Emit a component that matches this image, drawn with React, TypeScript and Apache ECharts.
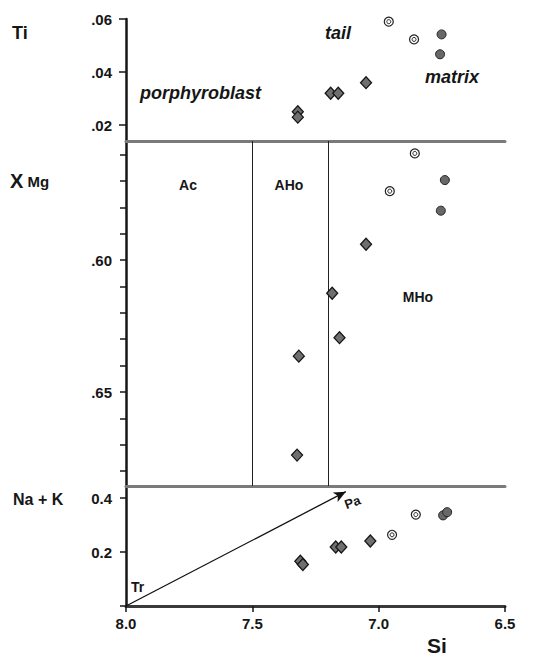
import React, { useEffect, useRef } from "react";
import * as echarts from "echarts";

// ---- data (Si, value) ----
const porphTiSi = [7.32, 7.32, 7.19, 7.16, 7.05];
const porphTi = [0.025, 0.023, 0.032, 0.032, 0.036];
const tailTiSi = [6.96, 6.86];
const tailTi = [0.059, 0.0523];
const matrixTiSi = [6.751, 6.757];
const matrixTi = [0.0542, 0.0467];

const porphMgSi = [7.05, 7.184, 7.155, 7.316, 7.323];
const porphMg = [0.594, 0.6126, 0.6294, 0.6364, 0.6739];
const tailMgSi = [6.857, 6.956];
const tailMg = [0.5596, 0.5739];
const matrixMgSi = [6.738, 6.754];
const matrixMg = [0.5697, 0.5813];

const porphNaKSi = [7.31, 7.30, 7.17, 7.148, 7.033];
const porphNaK = [0.166, 0.154, 0.219, 0.219, 0.241];
const tailNaKSi = [6.947, 6.853];
const tailNaK = [0.264, 0.339];
const matrixNaKSi = [6.745, 6.729];
const matrixNaK = [0.336, 0.348];

const fieldBoundsSi = [7.5, 7.2];
const trPoint = [8.0, 0];
const paPoint = [7.13, 0.424];

const tiTicks = [0.02, 0.04, 0.06];
const mgTicks = [0.56, 0.57, 0.58, 0.59, 0.6, 0.61, 0.62, 0.63, 0.64, 0.65, 0.66, 0.67, 0.68];
const mgLabels = [0.6, 0.65];
const nakTicks = [0, 0.2, 0.4];
const nakLabels = [0.2, 0.4];

const zip = (a: number[], b: number[]) => a.map((v, i) => [v, b[i]]);

const FONT = "'Liberation Sans', Arial, sans-serif";
const INK = "#161616";

export default function App() {
  const ref = useRef<HTMLDivElement>(null);
  useEffect(() => {
    document.body.style.margin = "0";
    const chart = echarts.init(ref.current!, null, { renderer: "svg" });

    const L = 126, R = 553 - 505;
    const xBase = (gi: number, show: boolean, lineColor: string, lw: number) => ({
      type: "value",
      gridIndex: gi,
      min: 6.5,
      max: 8.0,
      interval: 0.5,
      inverse: true,
      splitLine: { show: false },
      axisLine: { show: true, onZero: false, lineStyle: { color: lineColor, width: lw } },
      axisTick: { show: show, length: 6, lineStyle: { color: INK, width: 1.5 } },
      axisLabel: {
        show: show,
        margin: 10,
        fontFamily: FONT,
        fontWeight: "bold",
        fontSize: 15,
        color: INK,
        formatter: (v: number) => v.toFixed(1),
      },
    });

    const yCommon = {
      type: "value",
      splitLine: { show: false },
      axisLine: { show: true, onZero: false, lineStyle: { color: INK, width: 2.5 } },
      axisLabel: {
        margin: 14,
        fontFamily: FONT,
        fontWeight: "bold",
        fontSize: 15,
        color: INK,
      },
    };

    const diamond = (gi: number, data: number[][]) => ({
      type: "scatter",
      xAxisIndex: gi,
      yAxisIndex: gi,
      symbol: "diamond",
      symbolSize: [11, 12],
      itemStyle: { color: "#6f6f6f", borderColor: INK, borderWidth: 1.3, opacity: 1 },
      data,
      z: 5,
    });
    const filled = (gi: number, data: number[][]) => ({
      type: "scatter",
      xAxisIndex: gi,
      yAxisIndex: gi,
      symbol: "circle",
      symbolSize: 9,
      itemStyle: { color: "#686868", borderColor: "#222", borderWidth: 1, opacity: 1 },
      data,
      z: 5,
    });
    const openOuter = (gi: number, data: number[][]) => ({
      type: "scatter",
      xAxisIndex: gi,
      yAxisIndex: gi,
      symbol: "circle",
      symbolSize: 9,
      itemStyle: { color: "#fff", borderColor: "#222", borderWidth: 1.2, opacity: 1 },
      data,
      z: 5,
    });
    const openInner = (gi: number, data: number[][]) => ({
      type: "scatter",
      xAxisIndex: gi,
      yAxisIndex: gi,
      symbol: "circle",
      symbolSize: 4,
      itemStyle: { color: "#fff", borderColor: "#222", borderWidth: 1, opacity: 1 },
      data,
      z: 6,
    });

    const txt = (x: number, y: number, text: string, extra: any = {}) => ({
      type: "text",
      x,
      y,
      style: {
        text,
        fill: INK,
        fontFamily: FONT,
        fontWeight: "bold",
        fontSize: 14,
        textVerticalAlign: "middle",
        verticalAlign: "middle",
        ...extra,
      },
    });

    chart.setOption({
      animation: false,
      backgroundColor: "#fff",
      grid: [
        { left: L, right: R, top: 19, height: 122 },
        { left: L, right: R, top: 141, height: 345 },
        { left: L, right: R, top: 486, height: 120 },
      ],
      xAxis: [
        xBase(0, false, "#7a7a7a", 3),
        xBase(1, false, "#7a7a7a", 3),
        xBase(2, true, "#3a3a3a", 3),
      ],
      yAxis: [
        {
          ...yCommon,
          gridIndex: 0,
          min: 0.014,
          max: 0.06,
          axisTick: { show: true, length: 7, customValues: tiTicks, lineStyle: { color: INK, width: 1.5 } },
          axisLabel: {
            ...yCommon.axisLabel,
            customValues: tiTicks,
            formatter: (v: number) => v.toFixed(2).replace(/^0/, ""),
          },
        },
        {
          ...yCommon,
          gridIndex: 1,
          min: 0.5549,
          max: 0.6856,
          inverse: true,
          axisTick: { show: true, length: 6, customValues: mgTicks, lineStyle: { color: INK, width: 1.5 } },
          axisLabel: {
            ...yCommon.axisLabel,
            customValues: mgLabels,
            formatter: (v: number) => v.toFixed(2).replace(/^0/, ""),
          },
        },
        {
          ...yCommon,
          gridIndex: 2,
          min: 0,
          max: 0.445,
          axisTick: { show: true, length: 6, customValues: nakTicks, lineStyle: { color: INK, width: 1.5 } },
          axisLabel: {
            ...yCommon.axisLabel,
            customValues: nakLabels,
            formatter: (v: number) => v.toFixed(1),
          },
        },
      ],
      series: [
        diamond(0, zip(porphTiSi, porphTi)),
        openOuter(0, zip(tailTiSi, tailTi)),
        openInner(0, zip(tailTiSi, tailTi)),
        filled(0, zip(matrixTiSi, matrixTi)),

        {
          ...diamond(1, zip(porphMgSi, porphMg)),
          markLine: {
            silent: true,
            symbol: ["none", "none"],
            label: { show: false },
            lineStyle: { color: "#222", width: 1, type: "solid" },
            data: fieldBoundsSi.map((v) => ({ xAxis: v })),
          },
        },
        openOuter(1, zip(tailMgSi, tailMg)),
        openInner(1, zip(tailMgSi, tailMg)),
        filled(1, zip(matrixMgSi, matrixMg)),

        {
          ...diamond(2, zip(porphNaKSi, porphNaK)),
          markLine: {
            silent: true,
            symbol: ["none", "arrow"],
            symbolSize: [8, 12],
            label: { show: false },
            lineStyle: { color: "#111", width: 1.3, type: "solid" },
            data: [[{ coord: trPoint }, { coord: paPoint }]],
          },
        },
        openOuter(2, zip(tailNaKSi, tailNaK)),
        openInner(2, zip(tailNaKSi, tailNaK)),
        filled(2, zip(matrixNaKSi, matrixNaK)),
      ],
      graphic: [
        txt(12, 33, "Ti", { fontSize: 18 }),
        {
          type: "text",
          x: 10,
          y: 181,
          style: {
            text: "{a|X}{b| Mg}",
            verticalAlign: "middle",
            rich: {
              a: { fontFamily: FONT, fontWeight: "bold", fontSize: 20, fill: INK, color: INK },
              b: { fontFamily: FONT, fontWeight: "bold", fontSize: 15, fill: INK, color: INK },
            },
          },
        },
        txt(13, 499, "Na + K", { fontSize: 16 }),
        txt(437, 645, "Si", { fontSize: 21, align: "center", textAlign: "center" }),
        txt(140, 93, "porphyroblast", { fontSize: 18, fontStyle: "italic" }),
        txt(325, 33, "tail", { fontSize: 18, fontStyle: "italic" }),
        txt(425, 77, "matrix", { fontSize: 18, fontStyle: "italic" }),
        txt(188, 185, "Ac", { fontSize: 14, align: "center", textAlign: "center" }),
        txt(289, 185, "AHo", { fontSize: 14, align: "center", textAlign: "center" }),
        txt(418, 297, "MHo", { fontSize: 14, align: "center", textAlign: "center" }),
        txt(131, 587, "Tr", { fontSize: 14 }),
        {
          type: "text",
          x: 345,
          y: 505,
          rotation: 0.35,
          style: { text: "Pa", fill: INK, fontFamily: FONT, fontWeight: "bold", fontSize: 13, verticalAlign: "middle" },
        },
      ],
    });
    return () => chart.dispose();
  }, []);
  return <div ref={ref} style={{ width: 553, height: 658 }} />;
}
